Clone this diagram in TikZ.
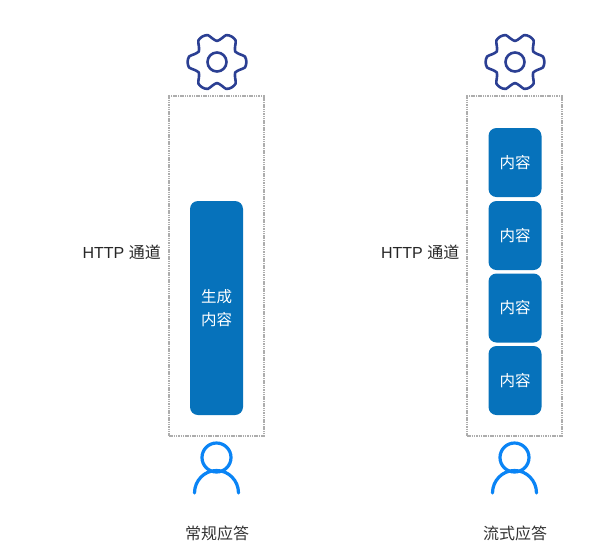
\documentclass[tikz,border=0pt]{standalone}
\usepackage{fontspec}
\setmainfont{Liberation Sans}
\newfontfamily\cjk{Noto Sans CJK SC}
\definecolor{gearblue}{HTML}{2B3F93}
\definecolor{personblue}{HTML}{0A84F5}
\definecolor{boxblue}{HTML}{0672BB}
\definecolor{dashgray}{HTML}{ADADAD}
\tikzset{
  channel/.style={draw=dashgray,line width=1.1pt,dash pattern=on 1.5pt off 0.8pt,fill=white},
  chunk/.style={fill=boxblue,rounded corners=8pt,text=white,inner sep=0pt,font=\cjk\fontsize{15.5}{20}\selectfont,align=center},
  gearline/.style={draw=gearblue,line width=2.6pt,line join=round},
  personline/.style={draw=personblue,line width=3.2pt,line cap=round},
  sidelabel/.style={inner sep=0pt,text=black!85,font=\fontsize{16}{18}\selectfont},
  caption/.style={inner sep=0pt,text=black!80,font=\cjk\fontsize{16}{20}\selectfont}
}
\newcommand{\geartooth}[1]{(#1-11:28.5) (#1:29.4) (#1+11:28.5) (#1+19:24) (#1+30:21) (#1+41:24)}
\newcommand{\drawgear}[1]{%
  \draw[gearline,shift={(#1,62)}] plot[smooth cycle,tension=0.45] coordinates {\geartooth{0} \geartooth{60} \geartooth{120} \geartooth{180} \geartooth{240} \geartooth{300}};
  \draw[gearline] (#1,62) circle (9.5);
}
\newcommand{\drawperson}[1]{%
  \draw[personline] (#1,457.5) circle (14.5);
  \draw[personline] (#1-22,493) arc[start angle=180,end angle=360,x radius=22,y radius=22.5];
}
\begin{document}
\begin{tikzpicture}[x=1pt,y=-1pt]
\useasboundingbox (0,0) rectangle (603,542);
\fill[white] (0,0) rectangle (603,542);
\drawgear{217}
\drawgear{515}
\node[channel,minimum width=95pt,minimum height=340pt,inner sep=0pt] (left) at (216.5,266) {};
\node[channel,minimum width=95pt,minimum height=340pt,inner sep=0pt] (right) at (514.5,266) {};
\node[chunk,minimum width=53pt,minimum height=214pt] (gen) at (216.5,308) {生成\\[3pt]内容};
\node[chunk,minimum width=53pt,minimum height=69pt] (c1) at (515,162.5) {内容};
\node[chunk,minimum width=53pt,minimum height=69pt] (c2) at (515,235.5) {内容};
\node[chunk,minimum width=53pt,minimum height=69pt] (c3) at (515,308) {内容};
\node[chunk,minimum width=53pt,minimum height=69pt] (c4) at (515,380.5) {内容};
\node[sidelabel,anchor=east] (hl) at (161,252) {HTTP {\cjk 通道}};
\node[sidelabel,anchor=east] (hr) at (459.5,252) {HTTP {\cjk 通道}};
\drawperson{216.5}
\drawperson{514.5}
\node[caption] (cl) at (217,533) {常规应答};
\node[caption] (cr) at (515,533) {流式应答};
\end{tikzpicture}
\end{document}
